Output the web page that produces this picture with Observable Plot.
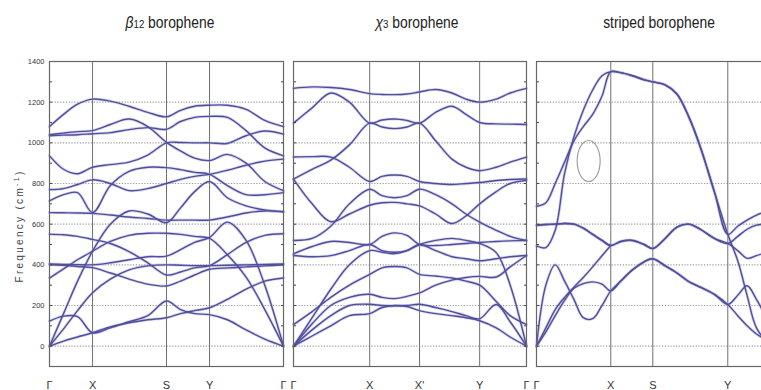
<!DOCTYPE html>
<html><head><meta charset="utf-8">
<script src="https://cdn.jsdelivr.net/npm/d3@7"></script>
<script src="https://cdn.jsdelivr.net/npm/@observablehq/plot@0.6"></script>
<style>
body{margin:0;background:#fff;}
#wrap{position:relative;width:761px;height:390px;overflow:hidden;font-family:"Liberation Sans",Arial,sans-serif;}
#wrap svg{position:absolute;top:0;}
.title{position:absolute;top:14px;font-size:16.5px;line-height:16px;color:#222;white-space:nowrap;transform:translateX(-50%) scaleX(0.84);}
.title .s{font-size:11.5px;}
.ylab{position:absolute;left:19px;top:226px;font-size:10px;letter-spacing:2.3px;color:#444;white-space:nowrap;transform:translate(-50%,-50%) rotate(-90deg);}
</style></head><body><div id="wrap"></div>
<script>
// ---------- axis / label data ----------
const yLabelTicks = [0,200,400,600,800,1000,1200,1400];
const yMinorTicks = [-100,0,100,200,300,400,500,600,700,800,900,1000,1100,1200,1300,1400];
const gridValues = [0,200,400,600,800,1000,1200];

// ---------- panel 1: beta12 borophene ----------
const sym1 = ["Γ","X","S","Y","Γ"];
const symK1 = [0,0.184,0.5,0.684,1];
const k1 = [0,.06,.12,.184,.26,.34,.42,.5,.56,.62,.684,.76,.84,.92,1];
const b1_01 = [1080,1140,1190,1215,1205,1180,1150,1128,1160,1180,1185,1185,1165,1110,1080];
const b1_02 = [1040,1048,1055,1060,1090,1117,1080,1002,960,925,913,943,900,810,765];
const b1_03 = [1035,1038,1040,1045,1050,1065,1075,1067,1105,1125,1130,1125,1060,975,936];
const b1_04 = [936,870,848,880,893,905,940,1000,1002,1000,1000,997,1035,1058,1043];
const b1_05 = [770,775,795,818,800,765,775,800,820,835,845,865,890,910,920];
const b1_06 = [714,745,755,657,790,860,880,878,868,855,845,790,745,745,755];
const b1_07 = [657,656,655,653,645,635,628,620,620,620,620,635,655,665,661];
const b1_08 = [0,160,320,467,600,665,650,607,680,760,810,730,690,670,661];
const b1_09 = [0,85,175,263,330,375,395,400,398,396,396,398,400,402,404];
const b1_10 = [400,398,392,386,360,330,305,296,320,350,378,385,390,395,400];
const b1_11 = [551,548,540,525,505,465,410,350,365,385,396,450,510,545,553];
const b1_12 = [404,402,401,400,410,425,440,443,475,510,535,610,520,300,0];
const b1_13 = [335,380,425,467,515,545,555,555,550,540,530,450,340,180,0];
const b1_14 = [123,148,145,66,90,120,150,222,180,160,155,130,80,35,0];
const b1_15 = [0,25,45,66,95,115,130,140,160,175,189,230,280,320,335];
const bands1 = [b1_01,b1_02,b1_03,b1_04,b1_05,b1_06,b1_07,b1_08,b1_09,b1_10,b1_11,b1_12,b1_13,b1_14,b1_15];

// ---------- panel 2: chi3 borophene ----------
const sym2 = ["Γ","X","X'","Y","Γ"];
const symK2 = [0,0.327,0.541,0.799,1];
const k2 = [0,.08,.16,.24,.327,.38,.434,.487,.541,.61,.68,.74,.799,.87,.93,1];
const c01 = [1268,1275,1272,1262,1242,1238,1237,1240,1250,1262,1245,1215,1200,1215,1245,1268];
const c02 = [1097,1172,1245,1200,1097,1112,1117,1110,1097,1150,1180,1140,1100,1093,1092,1090];
const c03 = [822,870,915,990,1097,1078,1070,1078,1097,1010,920,880,863,880,905,930];
const c04 = [930,932,930,880,810,835,842,835,810,800,795,800,805,815,820,822];
const c05 = [822,700,612,650,693,705,707,700,690,650,603,640,700,760,800,815];
const c06 = [520,530,590,700,772,740,730,740,772,745,700,650,610,570,540,520];
const c07 = [454,490,515,510,500,540,557,545,500,495,500,505,510,515,518,520];
const c08 = [446,440,445,470,500,470,462,470,500,470,440,430,420,430,440,446];
const c10 = [0,110,200,240,255,240,234,245,262,300,325,338,343,340,390,446];
const c11 = [0,50,100,150,160,190,200,195,175,160,150,140,125,90,45,0];
const c12 = [0,80,150,200,206,200,198,200,206,190,170,150,135,205,120,0];
const c13 = [0,140,280,400,470,462,455,470,500,520,530,520,505,460,300,0];
const c14 = [106,170,240,300,353,385,392,385,353,345,335,320,300,220,150,106];
const bands2 = [c01,c02,c03,c04,c05,c06,c07,c08,c10,c11,c12,c13,c14];

// ---------- panel 3: striped borophene (path continues past the right edge) ----------
const sym3 = ["Γ","X","S","Y"];
const symK3 = [0,0.3175,0.497,0.8175];
const k3 = [0,.04,.08,.12,.16,.2,.24,.28,.3175,.36,.41,.46,.497,.55,.6,.65,.7,.76,.8175,.86,.9,.94,1];
const s_A  = [688,705,800,905,1010,1080,1140,1230,1350,1345,1330,1310,1300,1285,1240,1130,980,760,550,420,250,90,0];
const s_B  = [493,485,570,850,1030,1160,1260,1330,1350,1345,1330,1310,1300,1285,1240,1130,980,760,550,590,620,645,670];
const s_W1 = [595,598,600,603,600,580,550,520,495,515,520,500,480,530,585,600,575,530,505,540,575,595,600];
const s_W2 = [595,598,600,603,600,580,550,520,495,515,520,500,480,530,585,600,575,530,505,470,432,445,470];
const s_R1 = [0,90,180,240,290,338,390,445,495,null,null,null,null,null,null,null,null,null,null,null,null,null,null];
const s_R2 = [0,300,400,320,230,140,135,200,272,320,375,415,430,395,360,318,290,255,205,250,297,230,100];
const s_R3 = [0,70,150,225,285,308,316,305,272,320,375,415,430,395,360,318,290,255,205,150,100,60,20];
const bands3 = [s_A,s_B,s_W1,s_W2,s_R1,s_R2,s_R3];
const ringCenter = {k:0.225, f:908};

// ---------- layout ----------
const layout = [
  {left:0,   width:290, mL:49, mR:7, yLabels:true},
  {left:283, width:250, mL:10, mR:7, yLabels:false},
  {left:526, width:250, mL:10, mR:6, yLabels:false}
];
const panelData = [
  {k:k1, bands:bands1, sym:sym1, symK:symK1},
  {k:k2, bands:bands2, sym:sym2, symK:symK2},
  {k:k3, bands:bands3, sym:sym3, symK:symK3}
];
const FONT = '"Liberation Sans",Arial,sans-serif';
const BAND = "#504e9c";

const wrap = document.getElementById("wrap");

panelData.forEach((pd, pi) => {
  const L = layout[pi];
  const rows = [];
  pd.bands.forEach((b, bi) => b.forEach((f, j) => { if (f != null) rows.push({band: bi, k: pd.k[j], f}); }));
  const symRows = pd.sym.map((s, i) => ({label: s, k: pd.symK[i]}));
  const inner = pd.symK.filter(k => k > 0 && k < 1);
  const marks = [
    Plot.ruleY(gridValues, {stroke:"#9a9a9a", strokeDasharray:"1.2,1.6", strokeWidth:1.2}),
    Plot.ruleX(inner, {stroke:"#707070", strokeWidth:1}),
    Plot.line(rows, {x:"k", y:"f", z:"band", curve:"catmull-rom", stroke:"#a9a7d8", strokeWidth:3, strokeOpacity:0.45}),
    Plot.line(rows, {x:"k", y:"f", z:"band", curve:"catmull-rom", stroke:BAND, strokeWidth:1.4}),
    Plot.axisY(yMinorTicks, {anchor:"left", tickSize:3, dx:3, tickFormat:() => "", label:null, stroke:"#444"}),
    Plot.axisY(yMinorTicks, {anchor:"right", tickSize:3, dx:-3, tickFormat:() => "", label:null, stroke:"#444"}),
    Plot.frame({stroke:"#666", strokeWidth:1.2}),
    Plot.text(symRows, {x:"k", text:"label", frameAnchor:"bottom", dy:15, lineAnchor:"top", fontSize:11, fill:"#333"})
  ];
  if (L.yLabels) {
    marks.push(Plot.text(yLabelTicks, {y:d => d, text:d => String(d), frameAnchor:"left", dx:-5, textAnchor:"end", fontSize:7.5, fill:"#333"}));
  }
  const plot = Plot.plot({
    width: L.width, height: 390,
    marginLeft: L.mL, marginRight: L.mR, marginTop: 61, marginBottom: 24,
    x: {domain:[0,1], axis:null},
    y: {domain:[-100,1400], axis:null},
    style: {background:"transparent", fontFamily: FONT},
    marks
  });
  plot.style.left = L.left + "px";
  wrap.appendChild(plot);
  if (pi === 2) {
    const sx = plot.scale("x"), sy = plot.scale("y");
    d3.select(plot).append("ellipse")
      .attr("cx", sx.apply(ringCenter.k)).attr("cy", sy.apply(ringCenter.f))
      .attr("rx", 11.5).attr("ry", 20.5)
      .attr("fill", "none").attr("stroke", "#999").attr("stroke-width", 1.1);
  }
});

// ---------- titles ----------
const titles = [
  {html:'<i>β</i><span class="s">12</span> borophene', x:170},
  {html:'<i>χ</i><span class="s">3</span> borophene', x:417},
  {html:'striped borophene', x:659}
];
titles.forEach(t => {
  const d = document.createElement("div");
  d.className = "title";
  d.innerHTML = t.html;
  d.style.left = t.x + "px";
  wrap.appendChild(d);
});
const yl = document.createElement("div");
yl.className = "ylab";
yl.innerHTML = 'Frequency (cm<sup style="font-size:7px">-1</sup>)';
wrap.appendChild(yl);
</script>
</body></html>
